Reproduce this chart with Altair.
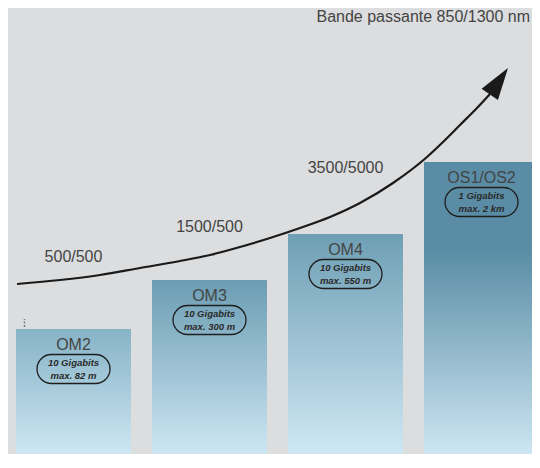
import math
import altair as alt
import pandas as pd

# ---------------- data ----------------
categories = ["OM2", "OM3", "OM4", "OS1/OS2"]
bar_heights = [139, 188, 234, 306]
speeds = ["10 Gigabits", "10 Gigabits", "10 Gigabits", "1 Gigabits"]
reaches = ["max. 82 m", "max. 300 m", "max. 550 m", "max. 2 km"]

bandwidth_cats = ["OM2", "OM3", "OM4"]
bandwidth_labels = ["500/500", "1500/500", "3500/5000"]
bandwidth_levels = [206, 236, 295]

title_text = "Bande passante 850/1300 nm"
title_x = [530]
title_y = [446]

# arrow curve (x in horizontal units, y in the same units as the bar heights)
curve_x = [17, 60, 100, 140, 180, 210, 240, 270, 300, 330, 360, 393, 427, 443, 460, 477, 490, 508]
curve_y = [184, 188, 193, 200, 207, 213, 221, 230, 240, 251, 265, 285, 311, 326, 343, 360, 374, 400]

marker_x = [24.5]
marker_y = [141]
marker_y2 = [149]

# ---------------- styles ----------------
BG = "#dcdddf"
TXT = "#444444"
BOTTOM = "#d5ecf8"
top_colors = ["#86b3c6", "#6b9db3", "#6e9fb4", "#5a8da5"]
hold_until = [0.0, 0.0, 0.0, 0.29]
FONT = "Liberation Sans"

W, H = 524, 446          # drawable size that fits inside the page
FULL_W, FULL_H = 532, 460  # reference frame (extends past the visible edge)

bars_df = pd.DataFrame({
    "cat": categories,
    "height": bar_heights,
    "speed": speeds,
    "reach": reaches,
})
bw_df = pd.DataFrame({"cat": bandwidth_cats, "label": bandwidth_labels, "level": bandwidth_levels})

xband = alt.X(
    "cat:N",
    sort=categories,
    scale=alt.Scale(domain=categories, range=[0, FULL_W], paddingInner=0.1544,
                    paddingOuter=0.0331, align=0.889),
    axis=None,
)
yscale = alt.Scale(domain=[0, FULL_H], range=[FULL_H, 0], nice=False, zero=True)


def Y(field):
    return alt.Y(field, scale=yscale, axis=None)


base = alt.Chart(bars_df)

bar_layers = []
for i, c in enumerate(categories):
    stops = [alt.GradientStop(color=top_colors[i], offset=0)]
    if hold_until[i] > 0:
        stops.append(alt.GradientStop(color=top_colors[i], offset=hold_until[i]))
    stops.append(alt.GradientStop(color=BOTTOM, offset=1))
    grad = alt.Gradient(gradient="linear", stops=stops, x1=0, x2=0, y1=0, y2=1)
    bar_layers.append(
        base.transform_filter(alt.datum.cat == c)
        .mark_bar(color=grad, opacity=1)
        .encode(x=xband, y=Y("height:Q"))
    )

pills = (
    base.transform_calculate(pt="datum.height - 25.5", pb="datum.height - 54.5")
    .mark_bar(width=73, cornerRadius=14.5, fillOpacity=0, stroke="#1e1e1e", strokeWidth=1.3, fill="#ffffff")
    .encode(x=xband, y=Y("pt:Q"), y2="pb:Q")
)

names = (
    base.mark_text(font=FONT, fontSize=16, color=TXT, baseline="alphabetic", align="center", dy=21)
    .encode(x=xband, y=Y("height:Q"), text="cat:N")
)

pill_line1 = (
    base.mark_text(font=FONT, fontSize=9.5, fontWeight="bold", fontStyle="italic", color="#2a2a2a",
                   baseline="middle", align="center", dy=34)
    .encode(x=xband, y=Y("height:Q"), text="speed:N")
)
pill_line2 = (
    base.mark_text(font=FONT, fontSize=9.5, fontWeight="bold", fontStyle="italic", color="#2a2a2a",
                   baseline="middle", align="center", dy=47)
    .encode(x=xband, y=Y("height:Q"), text="reach:N")
)

bw_text = (
    alt.Chart(bw_df)
    .mark_text(font=FONT, fontSize=16, color=TXT, baseline="alphabetic", align="center")
    .encode(x=xband, y=Y("level:Q"), text="label:N")
)

band_layer = alt.layer(*bar_layers, pills, names, pill_line1, pill_line2, bw_text)

# ---------------- curve layer ----------------
xq = alt.Scale(domain=[8, 8 + W], range=[0, W], nice=False, zero=False)

curve_df = pd.DataFrame({"x": curve_x[:-1], "y": curve_y[:-1], "o": list(range(len(curve_x) - 1))})
curve = (
    alt.Chart(curve_df)
    .mark_line(color="#1a1a1a", strokeWidth=2.2, interpolate="monotone")
    .encode(x=alt.X("x:Q", scale=xq, axis=None), y=Y("y:Q"), order="o:Q")
)

# arrow head derived from the curve's last segment
tx, ty = curve_x[-1], curve_y[-1]
px, py = curve_x[-2], curve_y[-2]
dx, dy = tx - px, ty - py
L = math.hypot(dx, dy)
head_len = 32
hx = tx - dx / L * head_len / 2
hy = ty - dy / L * head_len / 2
ang = math.degrees(math.atan2(dx, dy))
head_df = pd.DataFrame({"x": [hx], "y": [hy]})
head = (
    alt.Chart(head_df)
    .mark_point(shape="M0,-1L0.62,1L-0.62,1Z", size=head_len ** 2, angle=ang, filled=True,
                color="#1a1a1a", opacity=1, strokeWidth=0)
    .encode(x=alt.X("x:Q", scale=xq, axis=None), y=Y("y:Q"))
)

marker_df = pd.DataFrame({"x": marker_x, "y": marker_y, "y2": marker_y2})
marker = (
    alt.Chart(marker_df)
    .mark_rule(color="#7a7a7a", strokeWidth=1.5, strokeDash=[2, 1.5])
    .encode(x=alt.X("x:Q", scale=xq, axis=None), y=Y("y:Q"), y2="y2:Q")
)

title_df = pd.DataFrame({"x": title_x, "y": title_y, "t": [title_text]})
title = (
    alt.Chart(title_df)
    .mark_text(font=FONT, fontSize=16, color=TXT, align="right", baseline="alphabetic")
    .encode(x=alt.X("x:Q", scale=xq, axis=None), y=Y("y:Q"), text="t:N")
)

curve_layer = alt.layer(curve, head, marker, title)

chart = (
    alt.layer(band_layer, curve_layer)
    .resolve_scale(x="independent")
    .properties(width=W, height=H, padding=0, autosize=alt.AutoSizeParams(type="none"), background=BG)
    .configure_view(strokeWidth=0)
)

chart.save("out.html", embed_options={"renderer": "svg", "actions": False})
